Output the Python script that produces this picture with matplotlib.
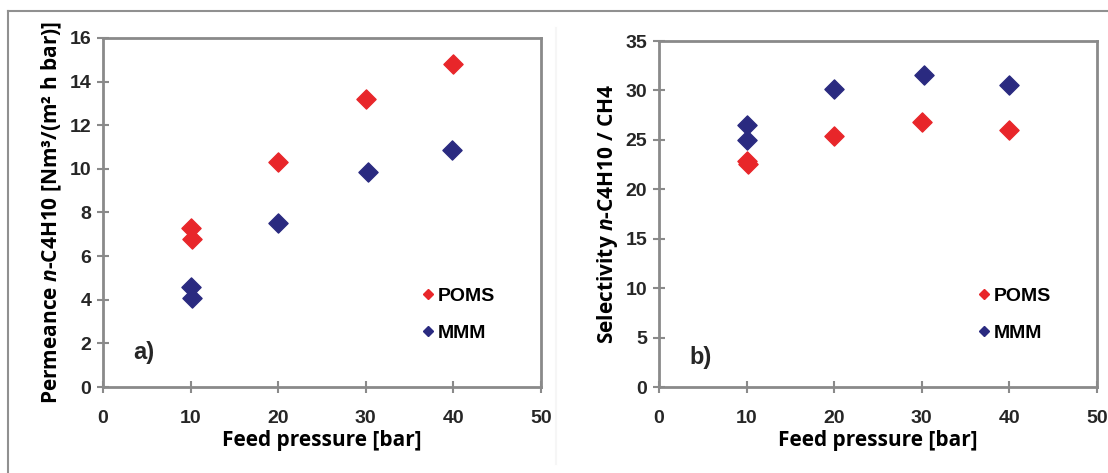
import matplotlib.pyplot as plt
from matplotlib.lines import Line2D

plt.rcParams['font.family'] = 'Liberation Sans'
plt.rcParams['font.weight'] = 'bold'
plt.rcParams['mathtext.fontset'] = 'custom'
plt.rcParams['mathtext.it'] = 'Open Sans:italic:bold'
plt.rcParams['mathtext.rm'] = 'Open Sans:bold'
plt.rcParams['mathtext.bf'] = 'Open Sans:bold'

# data
pressure_poms_a = [10, 10.2, 20, 30, 40]
permeance_poms = [7.3, 6.8, 10.3, 13.2, 14.8]
pressure_mmm_a = [10, 10.2, 20, 30.2, 39.8]
permeance_mmm = [4.6, 4.1, 7.5, 9.85, 10.85]

pressure_poms_b = [10, 10.2, 20, 30, 40]
selectivity_poms = [22.9, 22.6, 25.4, 26.8, 26.0]
pressure_mmm_b = [10, 10.1, 20, 30.2, 40]
selectivity_mmm = [26.5, 25.0, 30.1, 31.6, 30.5]

red = '#e8262a'
navy = '#2a2a80'
frame = '#8a8a8a'

fig = plt.figure(figsize=(11.08, 4.73), dpi=100)

# outer frame lines
fig.add_artist(Line2D([8 / 1108, 1], [1 - 11 / 473, 1 - 11 / 473], color='#909090', lw=1.5))
fig.add_artist(Line2D([8 / 1108, 8 / 1108], [0, 1 - 11 / 473], color='#909090', lw=1.5))
fig.add_artist(Line2D([556 / 1108, 556 / 1108], [0.02, 1 - 28 / 473], color='#f6f6f6', lw=1.5))

ax1 = fig.add_axes([103 / 1108, 86 / 473, 438 / 1108, 349 / 473])
ax2 = fig.add_axes([659 / 1108, 86 / 473, 438 / 1108, 346 / 473])


def style(ax, ymax, ystep):
    ax.set_xlim(0, 50)
    ax.set_ylim(0, ymax)
    ax.set_xticks(range(0, 51, 10))
    ax.set_yticks(range(0, ymax + 1, ystep))
    for s in ax.spines.values():
        s.set_color(frame)
        s.set_linewidth(2)
    ax.tick_params(direction='inout', length=9, width=1.5, color=frame,
                   labelsize=14, labelcolor='#262626')
    ax.tick_params(axis='x', pad=12)
    ax.tick_params(axis='y', pad=4)
    ax.set_xlabel('Feed pressure [bar]', fontsize=15, fontweight='bold',
                  family='Open Sans', labelpad=2)


ax1.scatter(pressure_poms_a, permeance_poms, marker='D', s=95, color=red, zorder=3)
ax1.scatter(pressure_mmm_a, permeance_mmm, marker='D', s=95, color=navy, zorder=3)
style(ax1, 16, 2)
ax1.set_ylabel('Permeance $\\mathit{n}$-C4H10 [Nm³/(m² h bar)]', fontsize=15,
               fontweight='bold', family='Open Sans', labelpad=4)
ax1.text(3.5, 1.3, 'a)', fontsize=17, color='#262626')

ax2.scatter(pressure_poms_b, selectivity_poms, marker='D', s=95, color=red, zorder=3)
ax2.scatter(pressure_mmm_b, selectivity_mmm, marker='D', s=95, color=navy, zorder=3)
style(ax2, 35, 5)
ax2.set_ylabel('Selectivity $\\mathit{n}$-C4H10 / CH4', fontsize=15,
               fontweight='bold', family='Open Sans', labelpad=4)
ax2.text(3.5, 2.3, 'b)', fontsize=17, color='#262626')

for ax in (ax1, ax2):
    h = [Line2D([], [], ls='', marker='D', ms=5.5, color=red),
         Line2D([], [], ls='', marker='D', ms=5.5, color=navy)]
    ax.legend(h, ['POMS', 'MMM'], loc='lower left', bbox_to_anchor=(0.69, 0.08),
              frameon=False, handlelength=0.5, handletextpad=0.25, labelspacing=1.0,
              prop={'family': 'Liberation Sans', 'weight': 'bold', 'size': 14})

fig.savefig('out.png', dpi=100)
